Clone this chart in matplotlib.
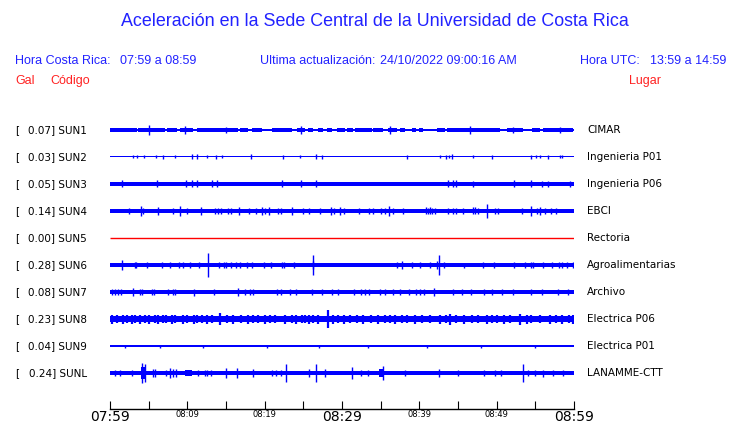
import matplotlib
matplotlib.use("Agg")
import matplotlib.pyplot as plt
from matplotlib.transforms import blended_transform_factory

# ---- data -------------------------------------------------------------
stations = ["SUN1", "SUN2", "SUN3", "SUN4", "SUN5", "SUN6", "SUN7", "SUN8", "SUN9", "SUNL"]
peak_gal = [0.07, 0.03, 0.05, 0.14, 0.00, 0.28, 0.08, 0.23, 0.04, 0.24]
places = ["CIMAR", "Ingenieria P01", "Ingenieria P06", "EBCI", "Rectoria",
          "Agroalimentarias", "Archivo", "Electrica P06", "Electrica P01", "LANAMME-CTT"]

# half thickness of the quiet trace (px)
base_half = [0.6, 0.5, 1.8, 2.0, 0.5, 2.0, 2.0, 3.0, 1.2, 2.0]

# noisy stretches (start min, end min, half amplitude px)
sun1_bursts = [(0.0, 3.5, 1.7), (3.6, 7.1, 1.7), (7.4, 8.7, 1.7), (9.0, 10.7, 1.7),
               (11.2, 16.6, 1.7), (16.8, 17.8, 1.7), (18.4, 19.7, 1.7), (21.0, 23.5, 1.7),
               (24.2, 25.2, 1.7), (25.6, 26.3, 1.7), (26.9, 27.5, 1.7), (28.1, 28.7, 1.7),
               (29.4, 30.4, 1.7), (30.6, 31.4, 1.7), (31.7, 33.9, 1.7), (34.0, 35.3, 1.7),
               (35.9, 37.1, 1.7), (37.5, 38.2, 1.7), (39.0, 39.6, 1.7), (40.0, 40.5, 1.7),
               (42.3, 43.3, 1.7), (43.6, 50.4, 1.7), (51.3, 53.4, 1.7), (54.6, 55.6, 1.7),
               (56.0, 59.9, 1.7)]
sun4_bursts = []
sunl_bursts = [(4.0, 4.6, 6), (9.7, 10.6, 2.6), (34.8, 35.3, 4)]

# spikes (minute, half amplitude px)
sun1_spikes = [(5.1, 5), (9.7, 4), (15.0, 3), (24.7, 4), (36.2, 4), (46.6, 4), (52.1, 3), (58.2, 3)]
sun2_spikes = [(3.0, 1.5), (3.5, 1.5), (4.4, 1.5), (6.0, 1.5), (6.9, 2), (8.4, 1.5), (10.6, 2.5),
               (11.3, 2.5), (12.6, 1.5), (13.7, 2), (14.5, 1.5), (18.2, 2.5), (22.4, 2), (24.6, 1.5),
               (26.6, 2.5), (27.4, 2), (38.4, 2), (42.7, 1.5), (43.4, 2), (43.8, 1.5), (44.2, 2.5),
               (46.9, 1.5), (49.4, 2), (54.5, 2), (55.1, 1.5), (55.6, 1.5), (56.7, 2), (58.2, 1.5),
               (58.4, 1.5)]
sun3_spikes = [(1.5, 3.5), (6.1, 3.5), (9.8, 3.5), (10.6, 3.5), (11.3, 3.5), (13.2, 3.5), (13.9, 3.5),
               (22.3, 3.5), (24.7, 3.5), (26.6, 3.5), (43.7, 3.5), (44.3, 3.5), (44.8, 3.5), (47.0, 3),
               (52.2, 3.5), (54.5, 3.5), (55.8, 3), (56.7, 3), (59.5, 3)]
sun4_spikes = [(2.5, 3), (4.0, 5), (4.3, 3), (6.2, 4), (8.2, 3), (9.0, 5), (10.0, 3), (11.8, 4),
               (13.6, 3), (14.0, 3), (14.4, 3), (15.2, 3), (15.6, 3), (16.7, 4), (18.0, 3), (18.9, 3),
               (19.7, 4), (20.1, 3), (20.6, 4), (21.7, 3), (22.1, 3), (23.5, 4), (24.9, 3), (25.7, 3),
               (27.1, 3), (28.6, 4), (29.0, 3), (29.7, 4), (30.2, 3), (32.2, 3), (33.5, 3), (34.0, 3),
               (35.1, 3), (35.6, 3), (36.1, 5), (36.6, 3), (37.9, 3), (40.8, 3.5), (41.1, 3),
               (41.4, 3.5), (41.7, 3), (42.0, 3), (43.7, 3), (44.3, 3), (44.7, 3),
               (45.7, 3), (46.9, 3.5), (47.2, 3.5), (47.6, 3), (48.8, 7), (49.8, 3), (50.2, 3),
               (53.3, 3), (54.4, 5), (55.2, 3), (55.6, 4), (56.3, 3), (57.0, 3), (57.7, 3)]
sun5_spikes = []
sun6_spikes = [(1.6, 5), (3.2, 3), (3.4, 3), (4.8, 3), (6.7, 3), (7.8, 3), (8.9, 3), (9.5, 3),
               (10.4, 3), (11.5, 3), (12.7, 12), (14.1, 3), (14.7, 3), (15.0, 3), (15.6, 3), (16.3, 3),
               (16.8, 3), (17.7, 3), (18.3, 3), (19.9, 3), (20.8, 3), (22.2, 3), (22.5, 3), (23.8, 3),
               (26.2, 10), (26.3, 4), (37.1, 3), (37.7, 4), (39.1, 3), (40.1, 3), (41.4, 3), (42.5, 10),
               (42.3, 4), (43.2, 3), (45.8, 2.5), (48.2, 3), (49.6, 3), (52.2, 3), (53.7, 3), (54.4, 3),
               (54.7, 3), (56.0, 3), (57.1, 3), (58.0, 3), (58.4, 3), (59.1, 3), (59.9, 3)]
sun7_spikes = [(0.3, 3), (0.6, 3), (1.0, 3), (1.4, 3), (3.0, 4), (3.9, 3), (4.1, 3), (5.4, 3),
               (5.7, 3), (7.5, 3), (8.2, 3), (8.4, 3), (10.9, 3.5), (13.4, 3), (16.6, 4), (17.5, 3),
               (18.1, 3), (18.5, 3), (21.6, 3), (22.1, 3), (23.3, 3), (24.0, 3), (26.1, 3), (27.4, 3),
               (28.7, 3), (29.5, 3), (31.5, 3), (32.4, 3), (33.0, 3), (33.5, 3), (34.9, 3), (35.6, 3),
               (36.6, 3), (37.5, 3), (38.6, 3), (39.6, 3), (40.1, 3), (40.6, 3), (41.9, 4), (44.4, 3),
               (45.5, 3), (46.7, 3), (48.3, 3), (49.4, 3), (50.7, 3), (52.1, 3), (54.5, 3), (55.9, 3),
               (57.9, 3), (59.2, 3)]
sun8_spikes = [(0.2, 4.5), (0.9, 4), (1.7, 4.5), (2.2, 4), (2.8, 4.5), (3.2, 4), (3.9, 4.5), (4.5, 4),
               (5.0, 4.5), (5.8, 4), (6.2, 4.5), (6.9, 4), (7.3, 4), (8.0, 4.5), (8.4, 4), (9.5, 4.5),
               (9.9, 4), (10.8, 4.5), (11.2, 4), (11.9, 4), (12.5, 4.5), (13.2, 4), (14.2, 6), (15.1, 4),
               (15.9, 4.5), (16.9, 4), (17.9, 4.5), (18.5, 4), (19.2, 4), (20.0, 4.5), (20.7, 4),
               (21.3, 4), (22.6, 4.5), (23.5, 4), (24.1, 4.5), (24.8, 4), (25.2, 4), (25.7, 4.5),
               (26.3, 4), (26.9, 4.5), (28.2, 9), (28.9, 4.5), (29.5, 4), (30.2, 4.5), (31.0, 4),
               (31.9, 4), (32.7, 4.5), (33.8, 4), (34.7, 4.5), (35.5, 4), (36.2, 4), (36.9, 4.5),
               (37.7, 4), (38.4, 4), (39.4, 4.5), (40.3, 4), (41.4, 4), (42.7, 4.5), (43.4, 4),
               (44.0, 5.5), (44.8, 4), (45.8, 4.5), (46.8, 4), (47.6, 4), (48.7, 4.5), (49.4, 4),
               (50.0, 4), (50.9, 4.5), (51.7, 4), (53.0, 5.5), (53.9, 4.5), (54.5, 4), (55.6, 4),
               (56.9, 4.5), (57.7, 4), (58.4, 4.5), (59.3, 4), (59.9, 4.5)]
sun9_spikes = [(2.0, 1.5), (6.5, 1.5), (12.0, 1.5), (20.3, 1.5), (27.0, 1.5), (33.4, 1.5),
               (41.0, 1.5), (48.0, 1.5), (55.0, 1.5)]
sunl_spikes = [(0.6, 3), (1.3, 3), (2.8, 3), (4.2, 10), (4.5, 9), (5.6, 4), (5.8, 4), (7.3, 3),
               (7.8, 5), (8.2, 4), (8.5, 4), (11.4, 3), (12.3, 3), (12.5, 3), (13.1, 3), (15.0, 5),
               (16.4, 5), (18.5, 4), (20.9, 3), (21.5, 3), (22.1, 3), (22.8, 9), (25.7, 4), (26.7, 9),
               (27.8, 4), (31.3, 6), (32.4, 3), (33.4, 3), (35.3, 7), (38.1, 3), (42.6, 4), (45.0, 3),
               (48.4, 3), (49.8, 3), (50.6, 3), (53.4, 9), (54.1, 3), (55.0, 3), (56.0, 3.5),
               (57.3, 3), (58.6, 3)]

spikes = [sun1_spikes, sun2_spikes, sun3_spikes, sun4_spikes, sun5_spikes,
          sun6_spikes, sun7_spikes, sun8_spikes, sun9_spikes, sunl_spikes]
bursts = [sun1_bursts, [], [], sun4_bursts, [], [], [], [], [], sunl_bursts]

tick_minutes = list(range(0, 61, 5))
tick_labels = ["07:59", "", "08:09", "", "08:19", "", "08:29", "", "08:39", "", "08:49", "", "08:59"]

# ---- figure ----------------------------------------------------------
W, H = 740, 423
fig = plt.figure(figsize=(W / 100, H / 100), dpi=100)
ax = fig.add_axes([110 / W, (H - 409) / H, 464 / W, 294 / H])
ax.set_xlim(0, 60)
ax.set_ylim(294, 0)   # y in pixels below the top of the axes

blue = "#0000ff"
red = "#ff0000"
hdr_blue = "#2222ff"
hdr_red = "#ff2222"

lab = blended_transform_factory(fig.transFigure, ax.transData)
for i, st in enumerate(stations):
    y = 15 + 27 * i
    c = red if peak_gal[i] == 0 else blue
    b = base_half[i]
    if st == "SUN5":
        ax.hlines(y, 0, 60, color=c, lw=1.0)
    else:
        ax.fill_between([0, 60], y - b, y + b, color=c, lw=0)
    for t0, t1, a in bursts[i]:
        ax.fill_between([t0, t1], y - a, y + a, color=c, lw=0)
    if spikes[i]:
        t = [s[0] for s in spikes[i]]
        a = [s[1] for s in spikes[i]]
        lw = 1.6 if st == "SUN8" else 1.0
        ax.vlines(t, [y - v for v in a], [y + v for v in a], color=c, lw=lw)
    ax.text(15 / W, y, "[", transform=lab, fontsize=7.5, va="center", ha="left", color="black")
    ax.text(87 / W, y, "%.2f] %s" % (peak_gal[i], st), transform=lab, fontsize=7.5,
            va="center", ha="right", color="black")
    ax.text(587 / W, y, places[i], transform=lab, fontsize=7.5, va="center", ha="left",
            color="black")

for s in ["top", "left", "right"]:
    ax.spines[s].set_visible(False)
ax.spines["bottom"].set_linewidth(1.0)
ax.set_yticks([])
ax.set_xticks(tick_minutes)
ax.set_xticklabels(tick_labels)
ax.tick_params(axis="x", direction="in", length=5.5, width=0.8, pad=1)
for lbl, m in zip(ax.get_xticklabels(), tick_minutes):
    lbl.set_fontsize(10 if m % 30 == 0 else 6)

hf = "Liberation Sans"
fig.text(375 / W, 1 - 22 / H, "Aceleración en la Sede Central de la Universidad de Costa Rica",
         ha="center", va="center", fontsize=12.9, color=hdr_blue, family=hf)
row1 = 1 - 61 / H
fig.text(15 / W, row1, "Hora Costa Rica:", va="center", fontsize=9, color=hdr_blue, family=hf)
fig.text(120 / W, row1, "07:59 a 08:59", va="center", fontsize=9, color=hdr_blue, family=hf)
fig.text(260 / W, row1, "Ultima actualización:", va="center", fontsize=9, color=hdr_blue, family=hf)
fig.text(380 / W, row1, "24/10/2022 09:00:16 AM", va="center", fontsize=9, color=hdr_blue, family=hf)
fig.text(580 / W, row1, "Hora UTC:", va="center", fontsize=9, color=hdr_blue, family=hf)
fig.text(650 / W, row1, "13:59 a 14:59", va="center", fontsize=9, color=hdr_blue, family=hf)
row2 = 1 - 81 / H
fig.text(15 / W, row2, "Gal", va="center", fontsize=9, color=hdr_red, family=hf)
fig.text(50 / W, row2, "Código", va="center", fontsize=9, color=hdr_red, family=hf)
fig.text(629 / W, row2, "Lugar", va="center", fontsize=9, color=hdr_red, family=hf)

fig.savefig("out.png", dpi=100)
